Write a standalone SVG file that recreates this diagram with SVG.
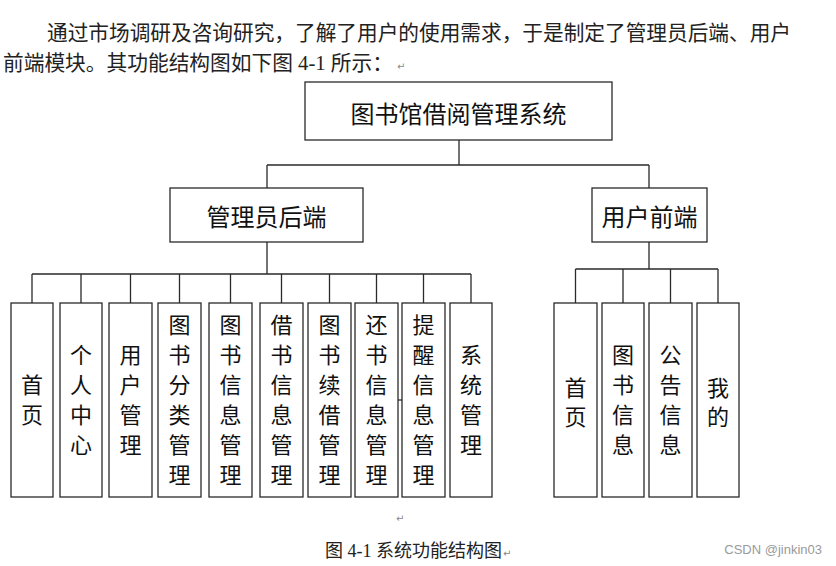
<svg xmlns="http://www.w3.org/2000/svg" width="836" height="566" viewBox="0 0 836 566">
<style>
.box{fill:#fff;stroke:#2a2a2a;stroke-width:1.3}
.ln{fill:none;stroke:#2a2a2a;stroke-width:1.3}
.t{font-family:"Noto Sans CJK SC","Noto Sans",sans-serif;fill:#111;text-anchor:middle;dominant-baseline:central}
.big{font-size:24px}
.leaf{font-size:22px}
.para{font-family:"Liberation Serif","Noto Sans CJK SC",serif;font-size:21px;fill:#222}
.cap{font-family:"Liberation Serif","Noto Sans CJK SC",serif;font-size:18px;fill:#222}
.ret{font-family:"DejaVu Sans",sans-serif;font-size:10px;fill:#888}
</style>
<rect width="836" height="566" fill="#fff"/>
<text class="para" x="47" y="40" textLength="744" lengthAdjust="spacingAndGlyphs">通过市场调研及咨询研究，了解了用户的使用需求，于是制定了管理员后端、用户</text>
<text class="para" x="3" y="70" textLength="390" lengthAdjust="spacingAndGlyphs">前端模块。其功能结构图如下图 4-1 所示：</text>
<text class="ret" x="397" y="70">↵</text>
<g id="connectors">
<path class="ln" d="M459 140V165M267 165H649M267 165V188M649 165V188"/>
<path class="ln" d="M267 242V274M32 274H471M32 274V303M81 274V303M130.5 274V303M179.5 274V303M230.5 274V303M281.5 274V303M329.5 274V303M376.5 274V303M423.5 274V303M471 274V303"/>
<path class="ln" d="M649 242V269M575.5 269H718M575.5 269V303M623 269V303M670.5 269V303M718 269V303"/>
<path class="ln" d="M398 400H402"/>
</g>
<g id="root"><rect class="box" x="305" y="82" width="307" height="58"/><text class="t big" x="458.5" y="112">图书馆借阅管理系统</text></g>
<g id="admin"><rect class="box" x="170" y="188" width="193" height="54"/><text class="t big" x="266.5" y="215">管理员后端</text></g>
<g id="user"><rect class="box" x="592" y="188" width="115" height="54"/><text class="t big" x="649.5" y="215">用户前端</text></g>
<g id="a1"><rect class="box" x="11" y="303" width="42" height="194"/><text class="t leaf"><tspan x="32" y="383">首</tspan><tspan x="32" y="413">页</tspan></text></g>
<g id="a2"><rect class="box" x="60" y="303" width="42" height="194"/><text class="t leaf"><tspan x="81" y="353">个</tspan><tspan x="81" y="383">人</tspan><tspan x="81" y="413">中</tspan><tspan x="81" y="443">心</tspan></text></g>
<g id="a3"><rect class="box" x="109" y="303" width="43" height="194"/><text class="t leaf"><tspan x="130.5" y="353">用</tspan><tspan x="130.5" y="383">户</tspan><tspan x="130.5" y="413">管</tspan><tspan x="130.5" y="443">理</tspan></text></g>
<g id="a4"><rect class="box" x="158" y="303" width="43" height="194"/><text class="t leaf"><tspan x="179.5" y="323">图</tspan><tspan x="179.5" y="353">书</tspan><tspan x="179.5" y="383">分</tspan><tspan x="179.5" y="413">类</tspan><tspan x="179.5" y="443">管</tspan><tspan x="179.5" y="473">理</tspan></text></g>
<g id="a5"><rect class="box" x="209" y="303" width="43" height="194"/><text class="t leaf"><tspan x="230.5" y="323">图</tspan><tspan x="230.5" y="353">书</tspan><tspan x="230.5" y="383">信</tspan><tspan x="230.5" y="413">息</tspan><tspan x="230.5" y="443">管</tspan><tspan x="230.5" y="473">理</tspan></text></g>
<g id="a6"><rect class="box" x="260" y="303" width="43" height="194"/><text class="t leaf"><tspan x="281.5" y="323">借</tspan><tspan x="281.5" y="353">书</tspan><tspan x="281.5" y="383">信</tspan><tspan x="281.5" y="413">息</tspan><tspan x="281.5" y="443">管</tspan><tspan x="281.5" y="473">理</tspan></text></g>
<g id="a7"><rect class="box" x="308" y="303" width="43" height="194"/><text class="t leaf"><tspan x="329.5" y="323">图</tspan><tspan x="329.5" y="353">书</tspan><tspan x="329.5" y="383">续</tspan><tspan x="329.5" y="413">借</tspan><tspan x="329.5" y="443">管</tspan><tspan x="329.5" y="473">理</tspan></text></g>
<g id="a8"><rect class="box" x="355" y="303" width="43" height="194"/><text class="t leaf"><tspan x="376.5" y="323">还</tspan><tspan x="376.5" y="353">书</tspan><tspan x="376.5" y="383">信</tspan><tspan x="376.5" y="413">息</tspan><tspan x="376.5" y="443">管</tspan><tspan x="376.5" y="473">理</tspan></text></g>
<g id="a9"><rect class="box" x="402" y="303" width="43" height="194"/><text class="t leaf"><tspan x="423.5" y="323">提</tspan><tspan x="423.5" y="353">醒</tspan><tspan x="423.5" y="383">信</tspan><tspan x="423.5" y="413">息</tspan><tspan x="423.5" y="443">管</tspan><tspan x="423.5" y="473">理</tspan></text></g>
<g id="a10"><rect class="box" x="450" y="303" width="42" height="194"/><text class="t leaf"><tspan x="471" y="353">系</tspan><tspan x="471" y="383">统</tspan><tspan x="471" y="413">管</tspan><tspan x="471" y="443">理</tspan></text></g>
<g id="u1"><rect class="box" x="554" y="303" width="43" height="194"/><text class="t leaf"><tspan x="575.5" y="386">首</tspan><tspan x="575.5" y="415">页</tspan></text></g>
<g id="u2"><rect class="box" x="602" y="303" width="42" height="194"/><text class="t leaf"><tspan x="623" y="353">图</tspan><tspan x="623" y="383">书</tspan><tspan x="623" y="413">信</tspan><tspan x="623" y="443">息</tspan></text></g>
<g id="u3"><rect class="box" x="649" y="303" width="43" height="194"/><text class="t leaf"><tspan x="670.5" y="353">公</tspan><tspan x="670.5" y="383">告</tspan><tspan x="670.5" y="413">信</tspan><tspan x="670.5" y="443">息</tspan></text></g>
<g id="u4"><rect class="box" x="697" y="303" width="42" height="194"/><text class="t leaf"><tspan x="718" y="386">我</tspan><tspan x="718" y="415">的</tspan></text></g>
<text class="ret" x="396" y="522">↵</text>
<text class="cap" x="325" y="557">图 4-1 系统功能结构图<tspan class="ret" dx="1">↵</tspan></text>
<text x="822" y="554" text-anchor="end" font-family="Liberation Sans,Arial,sans-serif" font-size="13" fill="#9a9a9a">CSDN @jinkin03</text>
</svg>
